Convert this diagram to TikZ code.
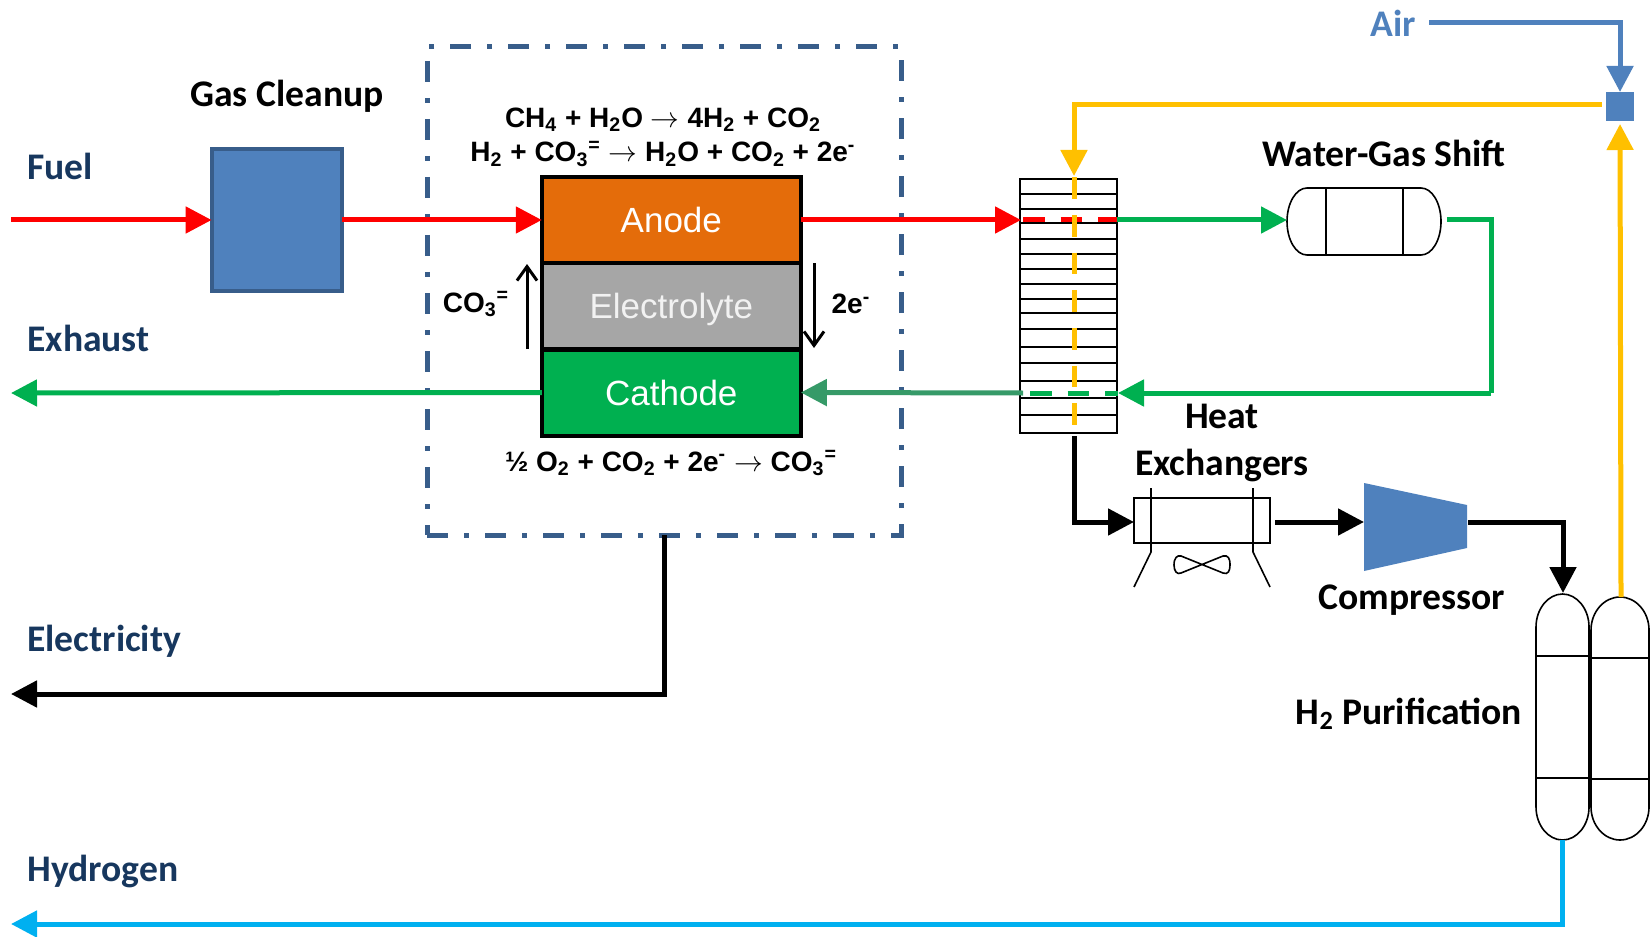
\documentclass[tikz,border=0pt]{standalone}
\usepackage{fontspec}
\setmainfont{Carlito}
\newfontfamily\arialfont{Liberation Sans}
\usetikzlibrary{arrows.meta}
\definecolor{anodeorange}{HTML}{E46C0A}
\definecolor{electrolytegray}{HTML}{A6A6A6}
\definecolor{cathodegreen}{HTML}{00B050}
\definecolor{darkgreen}{HTML}{369A68}
\definecolor{unitblue}{HTML}{4F81BD}
\definecolor{edgeblue}{HTML}{385D8A}
\definecolor{labelblue}{HTML}{17375E}
\definecolor{airorange}{HTML}{FFC000}
\definecolor{hydrogenblue}{HTML}{00B0F0}
\tikzset{
  flow/.style={line width=2.5pt,-{Triangle[length=13pt,width=13pt]}},
  plainflow/.style={line width=2.5pt},
  dashflow/.style={line width=2.5pt,dash pattern=on 10.8pt off 8pt},
  thinline/.style={line width=0.8pt},
  layer/.style={draw=black,line width=2pt,minimum width=129.5pt,minimum height=43pt,inner sep=0pt,outer sep=0pt,text=white,text height=12.5pt,text depth=0pt,font=\arialfont\fontsize{17.5}{20}\selectfont},
  tag/.style={font=\bfseries\fontsize{18.8}{22}\selectfont,text=labelblue,anchor=west,inner sep=0pt},
  unitname/.style={font=\bfseries\fontsize{18.8}{23.2}\selectfont,align=center,inner sep=0pt},
  reaction/.style={font=\arialfont\bfseries\fontsize{14}{17.4}\selectfont,align=center,inner sep=0pt},
  box/.style={inner sep=0pt,outer sep=0pt}
}
\begin{document}
\begin{tikzpicture}[x=0.5pt,y=-0.5pt]
\useasboundingbox (0,0) rectangle (1652,936);
\node[box,draw=edgeblue,line width=2.5pt,dash pattern=on 10.5pt off 8pt on 2.5pt off 8pt,minimum width=237pt,minimum height=244pt] (cell) at (664,291) {};
\node[box,draw=edgeblue,fill=unitblue,line width=2pt,minimum width=65pt,minimum height=71pt] (cleanup) at (276.6,220) {};
\node[layer,fill=anodeorange] (anode) at (671.3,220) {Anode};
\node[layer,fill=electrolytegray,text=white!95!black] (electrolyte) at (671.3,306) {Electrolyte};
\node[layer,fill=cathodegreen] (cathode) at (671.3,392.5) {Cathode};
\node[box,draw=black,thinline,minimum width=48.5pt,minimum height=127pt] (stack) at (1068.5,306) {};
\draw[thinline] (1020,194) -- (1117,194);
\draw[thinline] (1020,209) -- (1117,209);
\draw[thinline] (1020,223) -- (1117,223);
\draw[thinline] (1020,239) -- (1117,239);
\draw[thinline] (1020,254) -- (1117,254);
\draw[thinline] (1020,269) -- (1117,269);
\draw[thinline] (1020,284) -- (1117,284);
\draw[thinline] (1020,299) -- (1117,299);
\draw[thinline] (1020,313) -- (1117,313);
\draw[thinline] (1020,329) -- (1117,329);
\draw[thinline] (1020,347) -- (1117,347);
\draw[thinline] (1020,363) -- (1117,363);
\draw[thinline] (1020,381) -- (1117,381);
\draw[thinline] (1020,398) -- (1117,398);
\draw[thinline] (1020,415) -- (1117,415);
\draw[thinline] (1307,188) -- (1421,188) .. controls (1432,188) and (1441,203) .. (1441,221.5) .. controls (1441,240) and (1432,255) .. (1421,255) -- (1307,255) .. controls (1296,255) and (1287,240) .. (1287,221.5) .. controls (1287,203) and (1296,188) .. (1307,188) -- cycle;
\draw[thinline] (1326,188) -- (1326,255);
\draw[thinline] (1403,188) -- (1403,255);
\node[box,draw=black,thinline,minimum width=68pt,minimum height=22.5pt] (cooler) at (1202,520.5) {};
\draw[thinline] (1151,488) -- (1151,552) -- (1134,587);
\draw[thinline] (1253,488) -- (1253,552) -- (1270,587);
\draw[thinline] (1174,565) .. controls (1174,558) and (1177,555) .. (1181,556) -- (1202,564.5) -- (1223,556) .. controls (1228,555) and (1230,558) .. (1230,565) .. controls (1230,571) and (1228,575) .. (1223,573) -- (1202,564.5) -- (1181,573) .. controls (1177,575) and (1174,571) .. (1174,565) -- cycle;
\fill[unitblue] (1364,483) -- (1467,505) -- (1467,548) -- (1364,571) -- cycle;
\draw[thinline] (1536,627) .. controls (1536,609) and (1548,594) .. (1562.5,594) .. controls (1577,594) and (1589,609) .. (1589,627) -- (1589,807) .. controls (1589,825) and (1577,840) .. (1562.5,840) .. controls (1548,840) and (1536,825) .. (1536,807) -- cycle;
\draw[thinline] (1536,656) -- (1589,656);
\draw[thinline] (1536,778) -- (1589,778);
\draw[thinline] (1591,630) .. controls (1591,612) and (1604,597) .. (1620,597) .. controls (1636,597) and (1649,612) .. (1649,630) -- (1649,807) .. controls (1649,825) and (1636,840) .. (1620,840) .. controls (1604,840) and (1591,825) .. (1591,807) -- cycle;
\draw[thinline] (1591,658) -- (1649,658);
\draw[thinline] (1591,779) -- (1649,779);
\node[box,fill=unitblue,minimum width=14pt,minimum height=14.5pt] (mixer) at (1620,106.5) {};
\coordinate (fuelin) at (11,220);
\coordinate (exhaustout) at (11,393);
\coordinate (powerout) at (11,694);
\coordinate (hydrogenout) at (11,924);
\coordinate (stackwestred) at (1021,220);
\coordinate (stackeastred) at (1117,220);
\coordinate (stackwestgreen) at (1023,393);
\coordinate (stackeastgreen) at (1118,393);
\coordinate (shiftin) at (1287,220);
\coordinate (shiftout) at (1447,220);
\coordinate (shiftturn) at (1491,393);
\coordinate (burnerin) at (1074,176);
\coordinate (burnerend) at (1074,425);
\coordinate (burnertop) at (1074,177.5);
\coordinate (mixerout) at (1602,105);
\coordinate (stackout) at (1074,436);
\coordinate (coolerin) at (1134,522);
\coordinate (coolerout) at (1275,522);
\coordinate (compin) at (1364,522);
\coordinate (compout) at (1468,522);
\coordinate (vesselin) at (1563,593);
\coordinate (vesselout) at (1562,840);
\coordinate (offgas) at (1621,597);
\coordinate (airin) at (1429,23);
\coordinate (iondown) at (527,349);
\coordinate (ionup) at (527,264);
\coordinate (elecup) at (814,263);
\coordinate (elecdown) at (814,348);
\draw[flow,red] (fuelin) -- (cleanup.west);
\draw[flow,red] (cleanup.east) -- (anode.west);
\draw[flow,red] (anode.east) -- (stackwestred);
\draw[dashflow,red] ([xshift=1pt]stackwestred) -- (stackeastred);
\draw[flow,cathodegreen] (stackeastred) -- (shiftin);
\draw[plainflow,cathodegreen] (shiftout) -| (shiftturn);
\draw[flow,cathodegreen] (shiftturn) -- (stackeastgreen);
\draw[dashflow,cathodegreen] ([xshift=3.5pt]stackwestgreen) -- (stackeastgreen);
\draw[flow,darkgreen] (stackwestgreen) -- (cathode.east);
\draw[flow,cathodegreen] (cathode.west) -- (exhaustout);
\draw[flow,black] (cell.south) |- (powerout);
\draw[flow,hydrogenblue] (vesselout) |- (hydrogenout);
\draw[flow,unitblue] (airin) -| (mixer.north);
\draw[flow,airorange] (mixerout) -| (burnerin);
\draw[dashflow,airorange] (burnertop) -- (burnerend);
\draw[flow,airorange,shorten >=1.5pt] (offgas) -- (mixer.south);
\draw[flow,black] (stackout) |- (coolerin);
\draw[flow,black] (coolerout) -- (compin);
\draw[flow,black] (compout) -| (vesselin);
\draw[line width=1.5pt,-{Straight Barb[length=7pt,width=10pt]}] (iondown) -- (ionup);
\draw[line width=1.5pt,-{Straight Barb[length=7pt,width=10pt]}] (elecup) -- (elecdown);
\node[tag] (fueltag) at (27,166) {Fuel};
\node[tag] (exhausttag) at (27,338) {Exhaust};
\node[tag] (powertag) at (27,641) {Electricity};
\node[tag] (hydrogentag) at (27,871) {Hydrogen};
\node[tag,text=unitblue] (airtag) at (1370,23) {Air};
\node[unitname] (cleanuptag) at (287,96) {Gas Cleanup};
\node[unitname] (shifttag) at (1384,153) {Water-Gas Shift};
\node[unitname] (heattag) at (1222,443) {Heat\\Exchangers};
\node[unitname] (comptag) at (1412,600) {Compressor};
\node[unitname] (puretag) at (1409,714) {H\textsubscript{2} Purification};
\node[reaction] (anodeeq) at (663,137) {CH\textsubscript{4} + H\textsubscript{2}O $\rightarrow$ 4H\textsubscript{2} + CO\textsubscript{2}\\H\textsubscript{2} + CO\textsubscript{3}\textsuperscript{=} $\rightarrow$ H\textsubscript{2}O + CO\textsubscript{2} + 2e\textsuperscript{-}};
\node[reaction] (cathodeeq) at (671,463) {½ O\textsubscript{2} + CO\textsubscript{2} + 2e\textsuperscript{-} $\rightarrow$ CO\textsubscript{3}\textsuperscript{=}};
\node[reaction] (iontag) at (476,304) {CO\textsubscript{3}\textsuperscript{=}};
\node[reaction] (electag) at (851,304) {2e\textsuperscript{-}};
\end{tikzpicture}
\end{document}
